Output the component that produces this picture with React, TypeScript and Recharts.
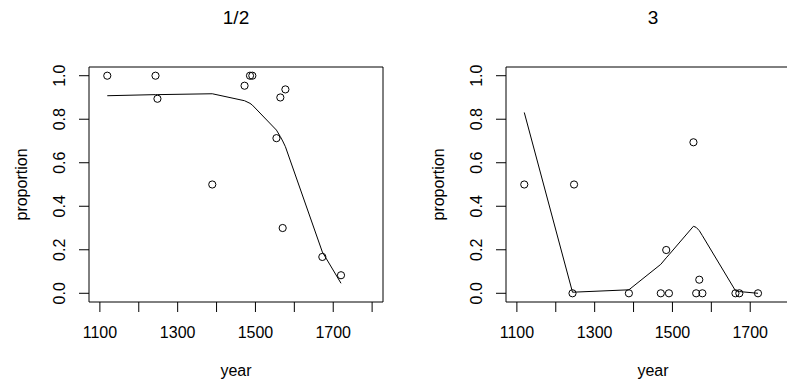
import React from 'react';
import {
  ComposedChart,
  XAxis,
  YAxis,
  Line,
  Scatter,
  ReferenceArea,
  Customized,
} from 'recharts';

// Observed proportions by year, panel "1/2"
const groupAPoints = [
  { year: 1119, p: 1.0 },
  { year: 1243, p: 1.0 },
  { year: 1248, p: 0.894 },
  { year: 1389, p: 0.5 },
  { year: 1472, p: 0.954 },
  { year: 1486, p: 1.0 },
  { year: 1492, p: 1.0 },
  { year: 1554, p: 0.713 },
  { year: 1564, p: 0.9 },
  { year: 1570, p: 0.3 },
  { year: 1577, p: 0.937 },
  { year: 1672, p: 0.167 },
  { year: 1720, p: 0.083 },
];

// Smoothed trend, panel "1/2"
const groupAFit = [
  { year: 1119, p: 0.908 },
  { year: 1243, p: 0.913 },
  { year: 1248, p: 0.913 },
  { year: 1389, p: 0.917 },
  { year: 1472, p: 0.885 },
  { year: 1486, p: 0.873 },
  { year: 1492, p: 0.865 },
  { year: 1554, p: 0.75 },
  { year: 1564, p: 0.72 },
  { year: 1570, p: 0.7 },
  { year: 1577, p: 0.674 },
  { year: 1672, p: 0.19 },
  { year: 1720, p: 0.046 },
];

// Observed proportions by year, panel "3"
const groupBPoints = [
  { year: 1119, p: 0.5 },
  { year: 1243, p: 0.0 },
  { year: 1247, p: 0.5 },
  { year: 1388, p: 0.0 },
  { year: 1470, p: 0.0 },
  { year: 1484, p: 0.199 },
  { year: 1491, p: 0.0 },
  { year: 1554, p: 0.694 },
  { year: 1561, p: 0.0 },
  { year: 1569, p: 0.0625 },
  { year: 1577, p: 0.0 },
  { year: 1662, p: 0.0 },
  { year: 1672, p: 0.0 },
  { year: 1720, p: 0.0 },
];

// Smoothed trend, panel "3"
const groupBFit = [
  { year: 1119, p: 0.831 },
  { year: 1243, p: 0.005 },
  { year: 1388, p: 0.016 },
  { year: 1470, p: 0.133 },
  { year: 1484, p: 0.163 },
  { year: 1491, p: 0.177 },
  { year: 1554, p: 0.308 },
  { year: 1561, p: 0.303 },
  { year: 1569, p: 0.288 },
  { year: 1577, p: 0.265 },
  { year: 1662, p: 0.012 },
  { year: 1672, p: 0.008 },
  { year: 1720, p: 0.0 },
];

const xTicks = [1100, 1200, 1300, 1400, 1500, 1600, 1700, 1800];
const xTickLabels = [1100, 1300, 1500, 1700];
const yTicks = [0, 0.2, 0.4, 0.6, 0.8, 1.0];
const xDomain: [number, number] = [1072, 1828];
const yDomain: [number, number] = [-0.04, 1.04];

const FONT = '"Liberation Sans", Arial, Helvetica, sans-serif';
const PANEL_W = 417;
const PANEL_H = 383;
const MARGIN = { top: 67, right: 34, bottom: 0, left: 0 };
const Y_AXIS_W = 89;
const X_AXIS_H = 81;
const PLOT_W = PANEL_W - MARGIN.right - Y_AXIS_W;

const XTick = (props: any) => {
  const { x, y, payload } = props;
  if (!xTickLabels.includes(payload.value)) return null;
  return (
    <text x={x} y={y + 26.3} textAnchor="middle" fontFamily={FONT} fontSize={16} fill="#000">
      {payload.value}
    </text>
  );
};

const YTick = (props: any) => {
  const { x, y, payload } = props;
  const bx = x - 14;
  return (
    <text
      x={bx}
      y={y}
      transform={`rotate(-90, ${bx}, ${y})`}
      textAnchor="middle"
      fontFamily={FONT}
      fontSize={16}
      fill="#000"
    >
      {Number(payload.value).toFixed(1)}
    </text>
  );
};

const XTitle = (props: any) => {
  const vb = props.viewBox;
  return (
    <text x={vb.x + vb.width / 2} y={vb.y + 74} textAnchor="middle" fontFamily={FONT} fontSize={16} fill="#000">
      year
    </text>
  );
};

const YTitle = (props: any) => {
  const vb = props.viewBox;
  const bx = vb.x + 27;
  const cy = vb.y + vb.height / 2;
  return (
    <text
      x={bx}
      y={cy}
      transform={`rotate(-90, ${bx}, ${cy})`}
      textAnchor="middle"
      fontFamily={FONT}
      fontSize={16}
      fill="#000"
    >
      proportion
    </text>
  );
};

const Ring = (props: any) => {
  const { cx, cy } = props;
  return <circle cx={cx} cy={cy} r={3.6} fill="none" stroke="#000" strokeWidth={1} />;
};

type PanelProps = {
  title: string;
  points: { year: number; p: number }[];
  fit: { year: number; p: number }[];
  left: number;
};

const Panel = ({ title, points, fit, left }: PanelProps) => (
  <div style={{ position: 'absolute', left, top: 0 }}>
    <ComposedChart width={PANEL_W} height={PANEL_H} margin={MARGIN}>
      <XAxis
        type="number"
        dataKey="year"
        domain={xDomain}
        ticks={xTicks}
        interval={0}
        allowDataOverflow
        axisLine={false}
        tickLine={{ stroke: '#000', strokeWidth: 1 }}
        tickSize={10}
        tickMargin={0}
        height={X_AXIS_H}
        tick={<XTick />}
        label={{ content: <XTitle /> }}
      />
      <YAxis
        type="number"
        dataKey="p"
        domain={yDomain}
        ticks={yTicks}
        interval={0}
        allowDataOverflow
        axisLine={false}
        tickLine={{ stroke: '#000', strokeWidth: 1 }}
        tickSize={10}
        tickMargin={0}
        width={Y_AXIS_W}
        tick={<YTick />}
        label={{ content: <YTitle /> }}
      />
      <ReferenceArea
        x1={xDomain[0]}
        x2={xDomain[1]}
        y1={yDomain[0]}
        y2={yDomain[1]}
        fill="none"
        fillOpacity={0}
        stroke="#000"
        strokeWidth={1}
        ifOverflow="visible"
      />
      <Line
        data={fit}
        dataKey="p"
        type="linear"
        stroke="#000"
        strokeWidth={1}
        dot={false}
        activeDot={false}
        isAnimationActive={false}
      />
      <Scatter data={points} dataKey="p" shape={<Ring />} isAnimationActive={false} />
      <Customized
        component={() => (
          <text
            x={Y_AXIS_W + PLOT_W / 2}
            y={24.3}
            textAnchor="middle"
            fontFamily={FONT}
            fontSize={19}
            fill="#000"
          >
            {title}
          </text>
        )}
      />
    </ComposedChart>
  </div>
);

export default function App() {
  return (
    <div
      style={{
        position: 'fixed',
        left: 0,
        top: 0,
        width: 787,
        height: 383,
        overflow: 'hidden',
        background: '#fff',
      }}
    >
      <Panel title="1/2" points={groupAPoints} fit={groupAFit} left={0} />
      <Panel title="3" points={groupBPoints} fit={groupBFit} left={417} />
    </div>
  );
}
